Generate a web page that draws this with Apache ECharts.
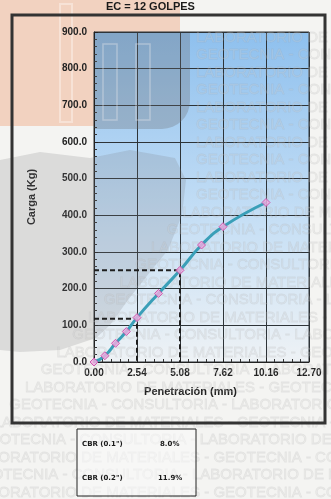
<!DOCTYPE html>
<html>
<head>
<meta charset="utf-8">
<script src="https://cdn.jsdelivr.net/npm/echarts@6/dist/echarts.min.js"></script>
<style>
  html, body { margin: 0; padding: 0; background: #f4f4f2; }
  #chart { width: 331px; height: 499px; }
</style>
</head>
<body>
<div id="chart"></div>
<script>
// CBR test, 12 blows: penetration (mm) vs load (kg)
const penetration = [0.00, 0.64, 1.27, 1.91, 2.54, 3.81, 5.08, 6.35, 7.62, 10.16];
const load = [0, 17, 51, 83, 121, 187, 250, 319, 369, 435];
const xTicks = [0.00, 2.54, 5.08, 7.62, 10.16, 12.70];

// Loads read at 0.1" (2.54 mm) and 0.2" (5.08 mm) for the CBR ratios
const cbrPenetration = [2.54, 5.08];
const cbrLoad = [118, 250];
const cbrLabels = ['CBR (0.1")', 'CBR (0.2")'];
const cbrValues = ['8.0%', '11.9%'];

// Letterhead watermark lines printed behind the sheet
const watermarkLines = ['LABORATORIO DE MATERIALES - GEOTECNIA - CONSULTORIA',
                        'GEOTECNIA - CONSULTORIA - LABORATORIO DE MATERIALES'];

const chart = echarts.init(document.getElementById('chart'), null, { renderer: 'canvas' });

const curve = penetration.map((p, i) => [p, load[i]]);
const guide = i => [[0, cbrLoad[i]], [cbrPenetration[i], cbrLoad[i]], [cbrPenetration[i], 0]];

const font = '"Liberation Sans", Arial, sans-serif';
const gridLine = { lineStyle: { color: '#2e3438', width: 1 } };

// faint letterhead text rows
const watermark = [];
for (let i = 0; i < 27; i++) {
  const y = 30 + i * 17.5;
  const x = y < 190 ? 196 : Math.max(-30, 196 - (y - 190) * 0.9);
  watermark.push({
    type: 'text', z: 1, silent: true, x: x, y: y,
    style: { text: watermarkLines[i % 2], font: '15px "Liberation Sans Narrow", "Liberation Sans", sans-serif',
      fill: 'rgba(215,215,215,0.22)', stroke: 'rgba(150,150,150,0.16)', lineWidth: 0.8 }
  });
}

chart.setOption({
  backgroundColor: 'transparent',
  animation: false,
  grid: { left: 94, top: 32, right: 22, bottom: 137, show: true,
    backgroundColor: new echarts.graphic.LinearGradient(0, 0, 0, 1, [
      { offset: 0, color: '#8ec0ee' },
      { offset: 0.55, color: '#c4def5' },
      { offset: 1, color: '#eef2f5' }
    ]),
    borderColor: '#2e3438', borderWidth: 1 },
  xAxis: {
    type: 'value', min: 0, max: 12.70, interval: 2.54,
    name: 'Penetración (mm)', nameLocation: 'middle', nameGap: 24,
    nameTextStyle: { fontFamily: font, fontWeight: 'bold', fontSize: 11, color: '#222', padding: [0, 22, 0, 0] },
    axisLine: { lineStyle: { color: '#222', width: 1 } },
    axisTick: { show: true, inside: true, length: 4, lineStyle: { color: '#222' } },
    minorTick: { show: true, splitNumber: 5, length: 3, lineStyle: { color: '#333' } },
    splitLine: gridLine,
    axisLabel: { fontFamily: font, fontWeight: 'bold', fontSize: 10, color: '#222', margin: 6,
      formatter: v => v.toFixed(2) }
  },
  yAxis: {
    type: 'value', min: 0, max: 900, interval: 100,
    name: 'Carga (Kg)', nameLocation: 'middle', nameGap: 57, nameRotate: 90,
    nameTextStyle: { fontFamily: font, fontWeight: 'bold', fontSize: 11, color: '#222' },
    axisLine: { show: true, lineStyle: { color: '#222', width: 1 } },
    axisTick: { show: true, inside: true, length: 4, lineStyle: { color: '#222' } },
    minorTick: { show: true, splitNumber: 5, length: 3, lineStyle: { color: '#333' } },
    splitLine: gridLine,
    axisLabel: { fontFamily: font, fontWeight: 'bold', fontSize: 10, color: '#222', margin: 7,
      formatter: v => v.toFixed(1) }
  },
  series: [
    {
      type: 'line', data: guide(0), symbol: 'none', z: 3, silent: true,
      lineStyle: { color: '#1e1e1e', width: 2, type: [5, 3] }
    },
    {
      type: 'line', data: guide(1), symbol: 'none', z: 3, silent: true,
      lineStyle: { color: '#1e1e1e', width: 2, type: [5, 3] }
    },
    {
      type: 'line', data: curve, smooth: 0.5, z: 4,
      lineStyle: { color: '#3a9fb8', width: 3 },
      symbol: 'diamond', symbolSize: 8,
      itemStyle: { color: 'rgba(236,172,222,0.85)', borderColor: '#cc5cb0', borderWidth: 1 }
    }
  ],
  graphic: [
    // letterhead logo in the top-left corner
    { type: 'rect', z: -5, silent: true, shape: { x: 0, y: 0, width: 112, height: 126 },
      style: { fill: '#f2d2c0' } },
    { type: 'rect', z: -5, silent: true, shape: { x: 100, y: 0, width: 80, height: 32 },
      style: { fill: '#f2d2c0' } },
    { type: 'rect', z: -4, silent: true, shape: { x: 60, y: 4, width: 12, height: 118 },
      style: { fill: 'none', stroke: '#f7e2d6', lineWidth: 2 } },
    { type: 'rect', z: 1, silent: true, shape: { x: 95, y: 33, width: 95, height: 96, r: [0, 0, 28, 0] },
      style: { fill: 'rgba(105,105,110,0.3)' } },
    { type: 'rect', z: 1, silent: true, shape: { x: 103, y: 44, width: 14, height: 76 },
      style: { fill: 'none', stroke: 'rgba(230,230,235,0.4)', lineWidth: 1.5 } },
    { type: 'rect', z: 1, silent: true, shape: { x: 136, y: 44, width: 14, height: 76 },
      style: { fill: 'none', stroke: 'rgba(230,230,235,0.4)', lineWidth: 1.5 } },
    // gray map in the letterhead
    { type: 'polygon', z: 1, silent: true,
      shape: { points: [[0, 160], [40, 152], [90, 158], [130, 150], [175, 158], [186, 180], [182, 215],
                        [168, 250], [150, 272], [128, 300], [110, 325], [96, 338], [60, 350], [20, 352], [0, 350]] },
      style: { fill: 'rgba(120,120,125,0.2)' } },
    ...watermark,
    // outer frame of the chart
    { type: 'rect', z: 5, shape: { x: 12, y: 15, width: 313, height: 408 },
      style: { fill: 'none', stroke: '#333', lineWidth: 3 } },
    { type: 'text', z: 5, left: 106, top: 1,
      style: { text: 'EC = 12 GOLPES', font: 'bold 11px ' + font, fill: '#1a1a1a' } },
    // CBR summary box
    { type: 'rect', z: 5, shape: { x: 77, y: 429, width: 119, height: 67 },
      style: { fill: 'rgba(250,250,250,0.55)', stroke: '#222', lineWidth: 1 } },
    { type: 'text', z: 6, left: 82, top: 441,
      style: { text: cbrLabels[0], font: 'bold 7px "DejaVu Sans", sans-serif', fill: '#1a1a1a' } },
    { type: 'text', z: 6, left: 160, top: 441,
      style: { text: cbrValues[0], font: 'bold 7px "DejaVu Sans", sans-serif', fill: '#1a1a1a' } },
    { type: 'text', z: 6, left: 82, top: 475,
      style: { text: cbrLabels[1], font: 'bold 7px "DejaVu Sans", sans-serif', fill: '#1a1a1a' } },
    { type: 'text', z: 6, left: 158, top: 475,
      style: { text: cbrValues[1], font: 'bold 7px "DejaVu Sans", sans-serif', fill: '#1a1a1a' } }
  ]
});
</script>
</body>
</html>
